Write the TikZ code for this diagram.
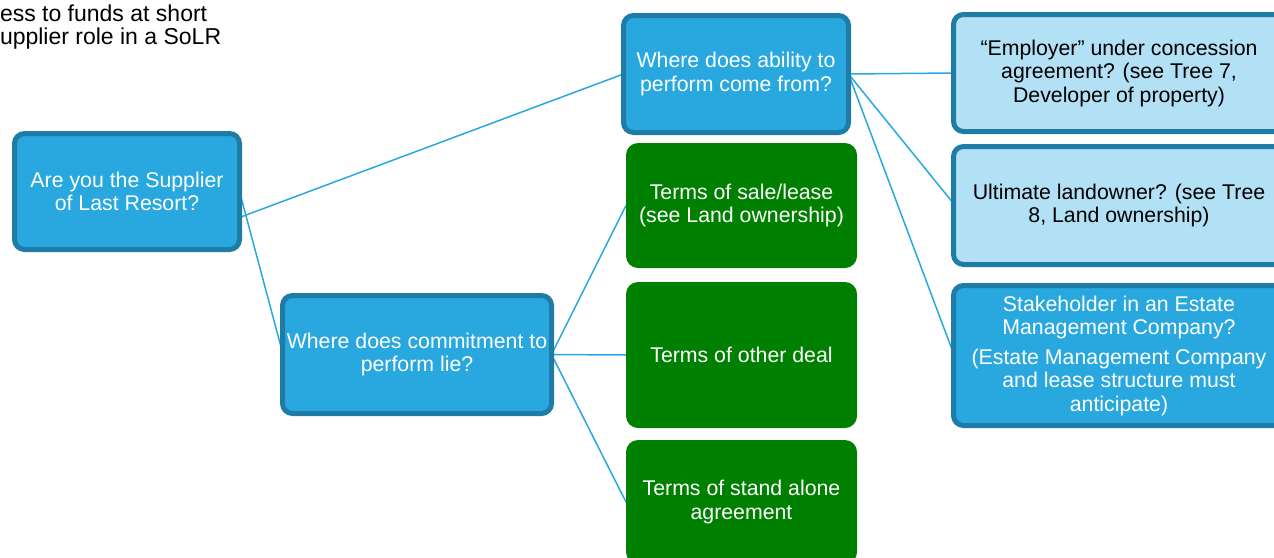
\documentclass[tikz,border=0pt]{standalone}
\usepackage{fontspec}
\setmainfont{Liberation Sans}
\usetikzlibrary{calc,backgrounds}
\definecolor{bluefill}{RGB}{41,168,224}
\definecolor{blueedge}{RGB}{30,124,166}
\definecolor{lightfill}{RGB}{178,224,244}
\definecolor{greenfill}{RGB}{0,128,0}
\definecolor{linkcol}{RGB}{41,168,224}
\begin{document}
\begin{tikzpicture}[x=1pt,y=-1pt,
  every node/.style={inner sep=0pt,outer sep=0pt},
  txt/.style={font=\fontsize{21.3}{23.5}\selectfont,align=center},
  bluebox/.style={txt,draw=blueedge,line width=5pt,fill=bluefill,text=white,rounded corners=10pt},
  lightbox/.style={txt,draw=blueedge,line width=5pt,fill=lightfill,text=black,rounded corners=10pt},
  greenbox/.style={txt,fill=greenfill,text=white,rounded corners=12pt},
  link/.style={draw=linkcol,line width=1.5pt}]
\path[use as bounding box] (0,0) rectangle (1274,557);
\begin{scope}
\clip (0,0) rectangle (1274,557);
\node[anchor=north west,font=\fontsize{23}{23}\selectfont,align=left] (note) at (0,5)
  {ess to funds at short\\upplier role in a SoLR};
\node[bluebox,minimum width=225pt,minimum height=116pt] (root) at (127,191.5)
  {Are you the Supplier\\of Last Resort?};
\node[bluebox,minimum width=225pt,minimum height=117pt] (ability) at (736,74)
  {Where does ability to\\perform come from?};
\node[bluebox,minimum width=269pt,minimum height=118pt] (commit) at (417,354.5)
  {Where does commitment to\\perform lie?};
\node[greenbox,minimum width=231pt,minimum height=125pt] (g1) at (741.5,205.5)
  {Terms of sale/lease\\(see Land ownership)};
\node[greenbox,minimum width=231pt,minimum height=146pt] (g2) at (741.5,355)
  {Terms of other deal};
\node[greenbox,minimum width=231pt,minimum height=124pt] (g3) at (741.5,502)
  {Terms of stand alone\\agreement};
\node[lightbox,minimum width=331pt,minimum height=117pt] (r1) at (1119,73)
  {“Employer” under concession\\agreement? (see Tree 7,\\Developer of property)};
\node[lightbox,minimum width=331pt,minimum height=118pt] (r2) at (1119,205.5)
  {Ultimate landowner? (see Tree\\8, Land ownership)};
\node[bluebox,minimum width=331pt,minimum height=140pt] (r3) at (1119,355.5)
  {Stakeholder in an Estate\\Management Company?\\[6pt](Estate Management Company\\and lease structure must\\anticipate)};
\begin{pgfonlayer}{background}
\path[link] ($(root.east)+(0,26)$) -- (ability.west);
\path[link] (root.east) -- ($(commit.west)+(0,-2)$);
\path[link] (ability.east) -- (r1.west);
\path[link] (ability.east) -- ($(r2.west)+(0,-2)$);
\path[link] (ability.east) -- ($(r3.west)+(0,-2)$);
\path[link] (commit.east) -- (g1.west);
\path[link] (commit.east) -- (g2.west);
\path[link] (commit.east) -- (g3.west);
\end{pgfonlayer}
\end{scope}
\end{tikzpicture}
\end{document}
